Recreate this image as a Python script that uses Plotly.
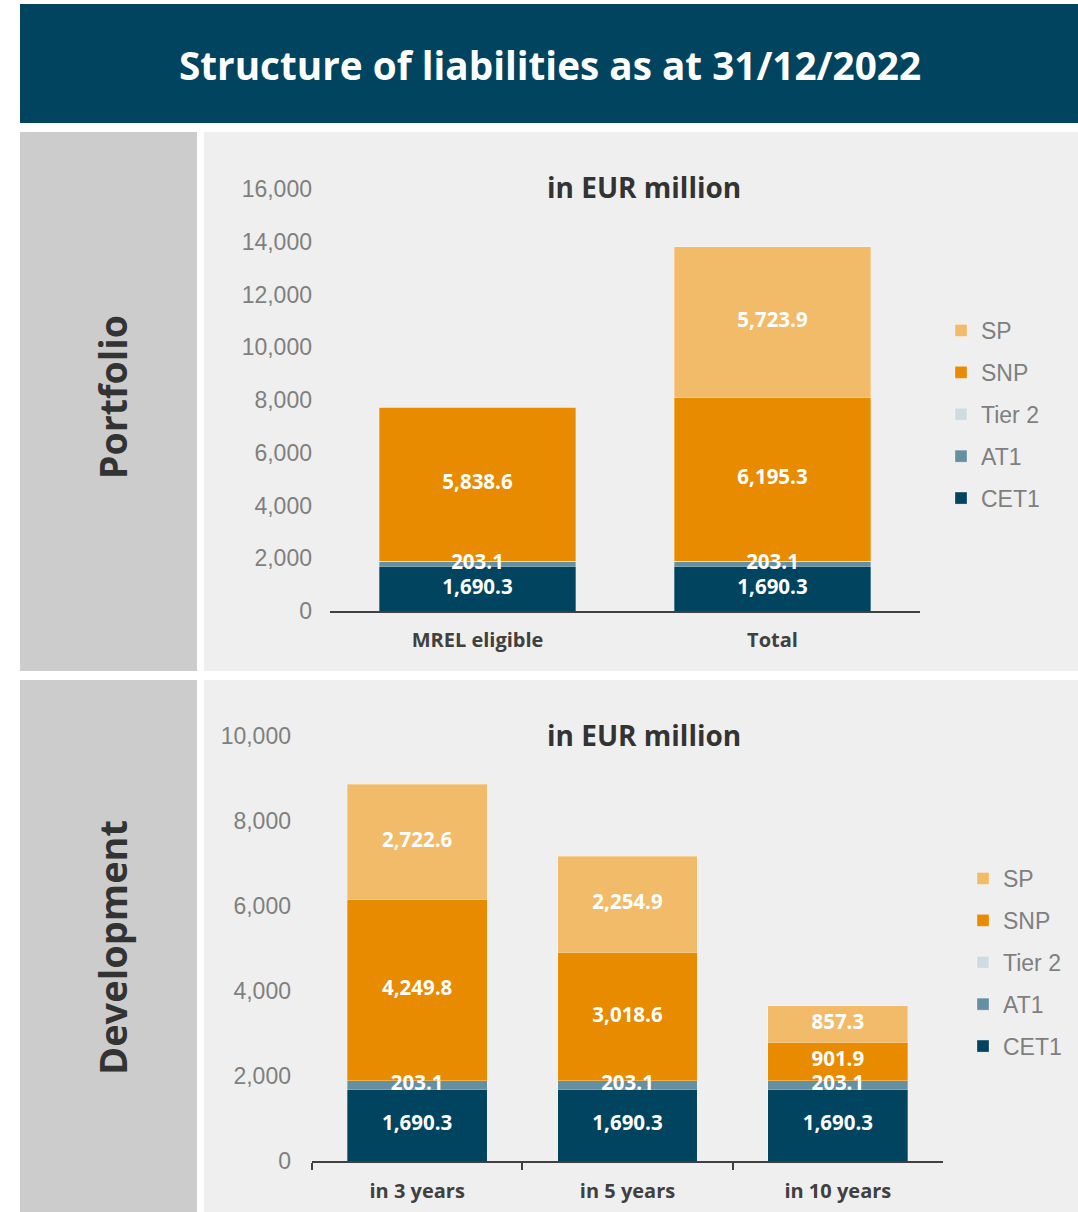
import plotly.graph_objects as go

W, H = 1078, 1212

series = ["CET1", "AT1", "Tier 2", "SNP", "SP"]
colors = {"CET1": "#00445F", "AT1": "#6590A2", "Tier 2": "#CEDCE2", "SNP": "#E88B00", "SP": "#F1BB69"}
legend_rank = {"SP": 1, "SNP": 2, "Tier 2": 3, "AT1": 4, "CET1": 5}

portfolio_cats = ["MREL eligible", "Total"]
portfolio_vals = {
    "CET1": [1690.3, 1690.3],
    "AT1": [203.1, 203.1],
    "Tier 2": [0, 0],
    "SNP": [5838.6, 6195.3],
    "SP": [0, 5723.9],
}

dev_cats = ["in 3 years", "in 5 years", "in 10 years"]
dev_vals = {
    "CET1": [1690.3, 1690.3, 1690.3],
    "AT1": [203.1, 203.1, 203.1],
    "Tier 2": [0, 0, 0],
    "SNP": [4249.8, 3018.6, 901.9],
    "SP": [2722.6, 2254.9, 857.3],
}

title_text = "Structure of liabilities as at 31/12/2022"
panel_labels = ["Portfolio", "Development"]
chart_title = "in EUR million"

LABEL_FONT = "Open Sans"
AX_FONT = "Liberation Sans"


def px(x):
    return x / W


def py(y):
    return 1 - y / H


def fmt(v):
    return f"{v:,.1f}"


fig = go.Figure()


def add_stack(cats, vals, xa, ya, leg, prefix):
    for s in series:
        fig.add_trace(go.Bar(
            x=cats, y=vals[s], name=s,
            marker=dict(color=colors[s], line=dict(width=0.6, color="rgba(255,255,255,0.5)")),
            xaxis=xa, yaxis=ya, legend=leg, legendgroup=prefix + s,
            legendrank=legend_rank[s], hoverinfo="skip",
        ))
    # data labels centred on each segment, drawn above all bars
    base = [0.0] * len(cats)
    lx, ly, lt = [], [], []
    for s in series:
        for i, v in enumerate(vals[s]):
            if v > 0:
                lx.append(cats[i])
                ly.append(base[i] + v / 2)
                lt.append(fmt(v))
            base[i] += v
    fig.add_trace(go.Scatter(
        x=lx, y=ly, text=lt, mode="text", textposition="middle center",
        textfont=dict(family=LABEL_FONT, size=20.5, color="white", weight="bold"),
        xaxis=xa, yaxis=ya, showlegend=False, hoverinfo="skip", cliponaxis=False,
    ))


add_stack(portfolio_cats, portfolio_vals, "x", "y", "legend", "p")
add_stack(dev_cats, dev_vals, "x2", "y2", "legend2", "d")

shapes = [
    dict(type="rect", xref="paper", yref="paper", x0=px(20), x1=1, y0=py(123), y1=py(4),
         fillcolor="#00445F", line=dict(width=0), layer="below"),
    dict(type="rect", xref="paper", yref="paper", x0=px(20), x1=px(197), y0=py(671), y1=py(132),
         fillcolor="#CCCCCC", line=dict(width=0), layer="below"),
    dict(type="rect", xref="paper", yref="paper", x0=px(204), x1=1, y0=py(671), y1=py(132),
         fillcolor="#EFEFEF", line=dict(width=0), layer="below"),
    dict(type="rect", xref="paper", yref="paper", x0=px(20), x1=px(197), y0=0, y1=py(680),
         fillcolor="#CCCCCC", line=dict(width=0), layer="below"),
    dict(type="rect", xref="paper", yref="paper", x0=px(204), x1=1, y0=0, y1=py(680),
         fillcolor="#EFEFEF", line=dict(width=0), layer="below"),
]

annotations = [
    dict(text=title_text, xref="paper", yref="paper", x=px(550), y=py(65),
         showarrow=False, font=dict(family=LABEL_FONT, size=38.7, color="white", weight="bold"),
         xanchor="center", yanchor="middle"),
    dict(text=panel_labels[0], xref="paper", yref="paper", x=px(112), y=py(397),
         showarrow=False, textangle=-90,
         font=dict(family=LABEL_FONT, size=37.5, color="#333333", weight="bold"),
         xanchor="center", yanchor="middle"),
    dict(text=panel_labels[1], xref="paper", yref="paper", x=px(112), y=py(948),
         showarrow=False, textangle=-90,
         font=dict(family=LABEL_FONT, size=38, color="#333333", weight="bold"),
         xanchor="center", yanchor="middle"),
    dict(text=chart_title, xref="paper", yref="paper", x=px(644), y=py(187),
         showarrow=False, font=dict(family=LABEL_FONT, size=28, color="#333333", weight="bold"),
         xanchor="center", yanchor="middle"),
    dict(text=chart_title, xref="paper", yref="paper", x=px(644), y=py(735),
         showarrow=False, font=dict(family=LABEL_FONT, size=28, color="#333333", weight="bold"),
         xanchor="center", yanchor="middle"),
]

tickfont_y = dict(family=AX_FONT, size=23, color="#7F7F7F")
tickfont_x = dict(family=LABEL_FONT, size=20, color="#404040", weight="bold")
legfont = dict(family=AX_FONT, size=23, color="#7F7F7F")

fig.update_layout(
    width=W, height=H,
    margin=dict(l=0, r=0, t=0, b=0, autoexpand=False),
    paper_bgcolor="white", plot_bgcolor="rgba(0,0,0,0)",
    barmode="stack", bargap=0.335,
    shapes=shapes, annotations=annotations,
    xaxis=dict(domain=[px(330), px(920)], anchor="y", showline=True, linecolor="#404040", linewidth=2,
               ticks="", tickfont=tickfont_x, ticklabelstandoff=10, showgrid=False,
               fixedrange=True, automargin=False),
    yaxis=dict(domain=[py(611), py(189)], anchor="x", range=[0, 16000], dtick=2000,
               tickformat=",d", showgrid=False, zeroline=False, showline=False,
               tickfont=tickfont_y, ticklabelstandoff=17, fixedrange=True, automargin=False),
    xaxis2=dict(domain=[px(312), px(943)], anchor="y2", showline=True, linecolor="#404040", linewidth=2,
                ticks="outside", tickson="boundaries", ticklen=7, tickcolor="#404040", tickwidth=2,
                tickfont=tickfont_x, ticklabelstandoff=11, showgrid=False,
                fixedrange=True, automargin=False),
    yaxis2=dict(domain=[py(1161), py(736)], anchor="x2", range=[0, 10000], dtick=2000,
                tickformat=",d", showgrid=False, zeroline=False, showline=False,
                tickfont=tickfont_y, ticklabelstandoff=20, fixedrange=True, automargin=False),
    legend=dict(x=px(941), y=py(309), xanchor="left", yanchor="top",
                traceorder="grouped", tracegroupgap=9,
                font=legfont, bgcolor="rgba(0,0,0,0)", itemclick=False),
    legend2=dict(x=px(963), y=py(857), xanchor="left", yanchor="top",
                 traceorder="grouped", tracegroupgap=9,
                 font=legfont, bgcolor="rgba(0,0,0,0)", itemclick=False),
    showlegend=True,
)

fig.write_html("out.html")
